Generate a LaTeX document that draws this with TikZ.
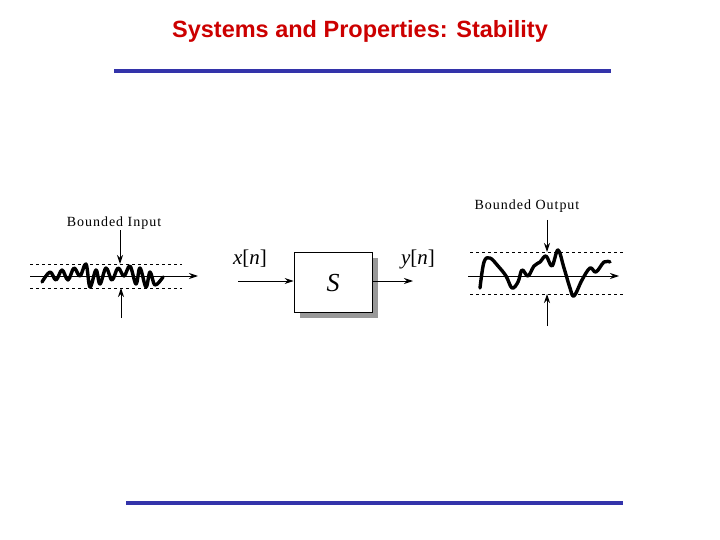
\documentclass[tikz,border=0pt]{standalone}
\usepackage{fontspec}
\setmainfont{Liberation Serif}
\newfontfamily\sans{Liberation Sans}
\newfontfamily\spaced[LetterSpace=7]{Liberation Serif}
\usetikzlibrary{arrows.meta}
\definecolor{tred}{RGB}{204,0,0}
\definecolor{tblue}{RGB}{51,51,170}
\begin{document}
\begin{tikzpicture}[x=1pt,y=-1pt,
  arr/.style={-{Stealth[length=9pt,width=6pt]},line width=1pt},
  bnd/.style={dashed,line width=0.7pt},
  wave/.style={line width=3.4pt,line join=round,line cap=round},
  lbl/.style={font=\spaced\fontsize{14}{16}\selectfont}]
\useasboundingbox (0,0) rectangle (720,540);
\node[font=\sans\bfseries\fontsize{23.5}{26}\selectfont,text=tred] (title) at (360,31) {Systems and Properties: Stability};
\draw[tblue,line width=3.5pt] (114,71) -- (611,71);
\draw[tblue,line width=3.5pt] (126,503) -- (623,503);
% input
\node[lbl] (bi) at (114,223) {Bounded Input};
\draw[bnd] (30,264) -- (182,264);
\draw[bnd] (30,288) -- (182,288);
\coordinate (ia0) at (30,276); \coordinate (ia1) at (198,276);
\draw[arr] (ia0) -- (ia1);
\coordinate (it0) at (120,230); \coordinate (it1) at (120,264);
\draw[arr] (it0) -- (it1);
\coordinate (ib0) at (121,318); \coordinate (ib1) at (121,288);
\draw[arr] (ib0) -- (ib1);
\draw[wave] plot[smooth,tension=0.6] coordinates {(42,282)(50,272)(56,280)(62,270)(68,280)(74,268)(80,276)(86,264)(90,287)(96,270)(100,284)(106,268)(112,280)(118,268)(124,276)(130,266)(136,284)(140,268)(146,287)(150,272)(155,285)(163,277)};
% system
\fill[gray!80] (300,258) rectangle (378,318);
\node[draw,fill=white,line width=0.7pt,minimum width=78pt,minimum height=60pt,inner sep=0pt] (S) at (333,282) {};
\node[font=\itshape\fontsize{26}{28}\selectfont] at (333,283) {S};
\node[font=\fontsize{21}{23}\selectfont] (xn) at (250,259) {\textit{x}[\textit{n}]};
\node[font=\fontsize{21}{23}\selectfont] (yn) at (418,259) {\textit{y}[\textit{n}]};
\coordinate (xin) at (238,281);
\draw[arr] (xin) -- (S.west |- xin);
\coordinate (yout) at (413,281);
\draw[arr] (S.east |- yout) -- (yout);
% output
\node[lbl] (bo) at (527,206) {Bounded Output};
\draw[bnd] (470,252) -- (625,252);
\draw[bnd] (470,294) -- (625,294);
\coordinate (oa0) at (468,276); \coordinate (oa1) at (619,276);
\draw[arr] (oa0) -- (oa1);
\coordinate (ot0) at (547,220); \coordinate (ot1) at (547,252);
\draw[arr] (ot0) -- (ot1);
\coordinate (ob0) at (547,326); \coordinate (ob1) at (547,294);
\draw[arr] (ob0) -- (ob1);
\draw[wave] plot[smooth,tension=0.6] coordinates {(480,288)(484,262)(490,258)(498,266)(506,276)(512,288)(518,282)(522,270)(528,276)(534,266)(540,262)(546,256)(552,266)(558,250)(564,268)(570,288)(574,296)(582,280)(590,268)(596,272)(604,262)(610,262)};
\end{tikzpicture}
\end{document}
